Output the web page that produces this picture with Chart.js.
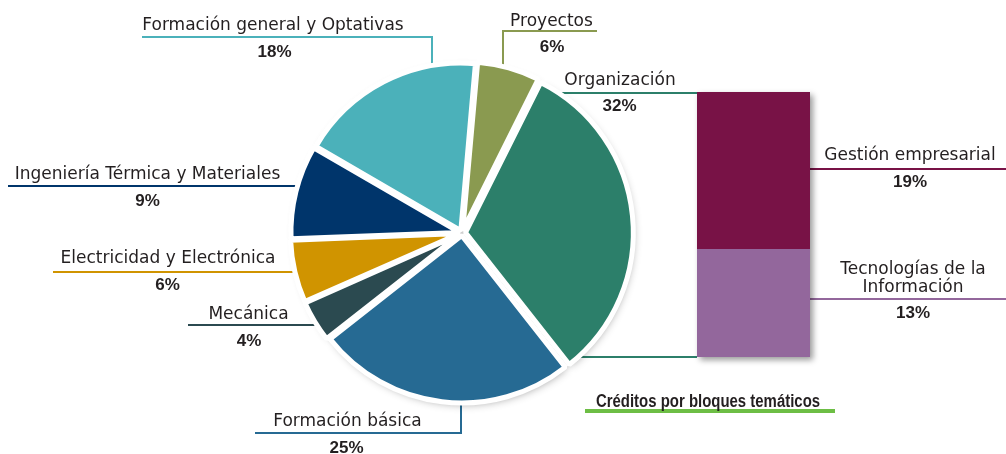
<!DOCTYPE html>
<html lang="es">
<head>
<meta charset="utf-8">
<title>Créditos por bloques temáticos</title>
<script src="https://cdn.jsdelivr.net/npm/chart.js@4.4.1/dist/chart.umd.min.js"></script>
<style>
  html, body { margin: 0; padding: 0; background: #fff; }
  #wrap { position: relative; width: 1006px; height: 454px; overflow: hidden; }
  canvas { position: absolute; }
  #pieCanvas { left: 0; top: 0; }
  #barCanvas { left: 687px; top: 82px; }
  .lbl {
    position: absolute; transform: translate(-50%, -50%); white-space: nowrap;
    color: #231f20; font-family: "DejaVu Sans", sans-serif; font-size: 17px;
    line-height: 18px; text-align: center;
  }
  .pct { font-family: "Liberation Sans", Arial, sans-serif; font-weight: bold; }
  .two { white-space: normal; width: 160px; }
  #title {
    font-family: "Liberation Sans", Arial, sans-serif; font-weight: bold; font-size: 18px;
    transform: translate(-50%, -50%) scaleX(0.83);
  }
  #titleLine { position: absolute; left: 585px; top: 409px; width: 250px; height: 4px; background: #6dbe45; }
</style>
</head>
<body>
<div id="wrap">
  <canvas id="pieCanvas" width="1006" height="454"></canvas>
  <canvas id="barCanvas" width="133" height="285"></canvas>
  <div id="titleLine"></div>
</div>
<script>
// --- datos ---
const categories = ['Proyectos', 'Organización', 'Formación básica', 'Mecánica',
  'Electricidad y Electrónica', 'Ingeniería Térmica y Materiales', 'Formación general y Optativas'];
const shares = [6, 32, 25, 4, 6, 9, 18];
const orgCategories = ['Gestión empresarial', 'Tecnologías de la Información'];
const orgShares = [19, 13];
const chartTitle = 'Créditos por bloques temáticos';

// --- estilo ---
const sliceColors = ['#8a9a50', '#2c7f6a', '#266a93', '#2b4a50', '#d09400', '#00356b', '#4bb1ba'];
const sliceOffsets = [10, 14, 10, 10, 10, 10, 10];
const orgColors = ['#781246', '#93679c'];

// posiciones de etiquetas: [nombreX, nombreY, pctX, pctY]
const labelPos = [
  [551.5, 20, 552, 47],
  [620, 79, 619.5, 106],
  [347.5, 420, 346.5, 448],
  [248.5, 312.5, 249, 341],
  [168, 256.5, 167.5, 285],
  [147.5, 173, 147.5, 201],
  [273, 24, 274.5, 51.5]
];
const orgLabelPos = [[910, 154, 910, 181.5], [913, 277, 913, 313]];
const orgLeaderY = [169, 299];

// líneas guía: horizontal desde x hasta el borde, o con quiebre vertical en "turn"
const leaders = [
  { i: 6, x: 142, y: 37, turn: 432, side: -1 },
  { i: 0, x: 597, y: 31, turn: 503, side: -1 },
  { i: 2, x: 255, y: 433, turn: 461, side: 1 },
  { i: 5, x: 8, y: 186 },
  { i: 4, x: 53, y: 272 },
  { i: 3, x: 188, y: 325 }
];

function barBox(chart) {
  const lo = chart.getDatasetMeta(0).data[0];
  const hi = chart.getDatasetMeta(1).data[0];
  return { left: lo.x - lo.width / 2, right: lo.x + lo.width / 2, top: hi.y, bottom: lo.base };
}

const barShadow = {
  id: 'barShadow',
  beforeDatasetsDraw(chart) {
    const b = barBox(chart);
    const ctx = chart.ctx;
    ctx.save();
    ctx.shadowColor = 'rgba(0,0,0,0.4)';
    ctx.shadowBlur = 6;
    ctx.shadowOffsetX = 3;
    ctx.shadowOffsetY = 3;
    ctx.fillStyle = '#fff';
    ctx.fillRect(b.left, b.top, b.right - b.left, b.bottom - b.top);
    ctx.restore();
  }
};

const barChart = new Chart(document.getElementById('barCanvas'), {
  type: 'bar',
  data: {
    labels: [categories[1]],
    datasets: [
      { label: orgCategories[1], data: [orgShares[1]], backgroundColor: orgColors[1] },
      { label: orgCategories[0], data: [orgShares[0]], backgroundColor: orgColors[0] }
    ]
  },
  options: {
    responsive: false, animation: false, events: [], devicePixelRatio: 1,
    layout: { padding: 10 },
    datasets: { bar: { barPercentage: 1, categoryPercentage: 1, borderWidth: 0 } },
    scales: {
      x: { display: false, stacked: true },
      y: { display: false, stacked: true, min: 0, max: orgShares[0] + orgShares[1] }
    },
    plugins: { legend: { display: false }, tooltip: { enabled: false } }
  },
  plugins: [barShadow]
});

const pieDecor = {
  id: 'pieDecor',
  beforeDatasetsDraw(chart) {
    const ctx = chart.ctx;
    const arcs = chart.getDatasetMeta(0).data;
    const cx = arcs[0].x, cy = arcs[0].y;
    const r = arcs[0].outerRadius - arcs[0].options.borderWidth / 2;
    const edgeX = (y, side) => cx + side * (Math.sqrt(r * r - (y - cy) * (y - cy)) - 6);
    const edgeY = (x, side) => cy + side * (Math.sqrt(r * r - (x - cx) * (x - cx)) - 6);

    ctx.save();
    ctx.lineWidth = 2;
    leaders.forEach(l => {
      ctx.strokeStyle = sliceColors[l.i];
      ctx.beginPath();
      ctx.moveTo(l.x, l.y);
      if (l.turn === undefined) {
        ctx.lineTo(edgeX(l.y, -1), l.y);
      } else {
        ctx.lineTo(l.turn, l.y);
        ctx.lineTo(l.turn, edgeY(l.turn, l.side));
      }
      ctx.stroke();
    });

    // conectores tarta -> barra
    const cv = document.getElementById('barCanvas');
    const bb = barBox(barChart);
    const b = { left: bb.left + cv.offsetLeft, right: bb.right + cv.offsetLeft,
                top: bb.top + cv.offsetTop, bottom: bb.bottom + cv.offsetTop };
    ctx.strokeStyle = sliceColors[1];
    [b.top + 1, b.bottom].forEach(y => {
      ctx.beginPath();
      ctx.moveTo(b.left, y);
      ctx.lineTo(edgeX(y, 1), y);
      ctx.stroke();
    });
    orgLeaderY.forEach((y, k) => {
      ctx.strokeStyle = orgColors[k];
      ctx.beginPath();
      ctx.moveTo(b.right, y);
      ctx.lineTo(chart.width, y);
      ctx.stroke();
    });
    ctx.restore();

    // sombra de cada porción (desplazada como la propia porción)
    ctx.save();
    ctx.shadowColor = 'rgba(0,0,0,0.45)';
    ctx.shadowBlur = 10;
    ctx.shadowOffsetX = 2;
    ctx.shadowOffsetY = 3;
    ctx.fillStyle = '#fff';
    arcs.forEach(a => {
      const off = (a.options.offset || 0) / 4;
      const mid = (a.startAngle + a.endAngle) / 2;
      const x = cx + Math.cos(mid) * off, y = cy + Math.sin(mid) * off;
      ctx.beginPath();
      ctx.moveTo(x, y);
      ctx.arc(x, y, r, a.startAngle, a.endAngle);
      ctx.closePath();
      ctx.fill();
    });
    ctx.restore();
  }
};

const pieChart = new Chart(document.getElementById('pieCanvas'), {
  type: 'pie',
  data: {
    labels: categories,
    datasets: [{
      data: shares,
      backgroundColor: sliceColors,
      borderColor: '#fff',
      borderWidth: 5,
      offset: sliceOffsets,
      rotation: 5,
      radius: 167.5
    }]
  },
  options: {
    responsive: false, animation: false, events: [], devicePixelRatio: 1,
    rotation: 5,
    layout: { padding: { left: 0, right: 82, top: 12, bottom: 0 } },
    plugins: { legend: { display: false }, tooltip: { enabled: false } }
  },
  plugins: [pieDecor]
});

// --- etiquetas ---
const wrap = document.getElementById('wrap');
function addLabel(text, x, y, cls, id) {
  const d = document.createElement('div');
  d.className = 'lbl' + (cls ? ' ' + cls : '');
  if (id) d.id = id;
  d.textContent = text;
  d.style.left = x + 'px';
  d.style.top = y + 'px';
  wrap.appendChild(d);
}
categories.forEach((c, i) => {
  const p = labelPos[i];
  addLabel(c, p[0], p[1]);
  addLabel(shares[i] + '%', p[2], p[3], 'pct');
});
orgCategories.forEach((c, i) => {
  const p = orgLabelPos[i];
  addLabel(c, p[0], p[1], i === 1 ? 'two' : '');
  addLabel(orgShares[i] + '%', p[2], p[3], 'pct');
});
addLabel(chartTitle, 708, 400.5, '', 'title');
</script>
</body>
</html>
